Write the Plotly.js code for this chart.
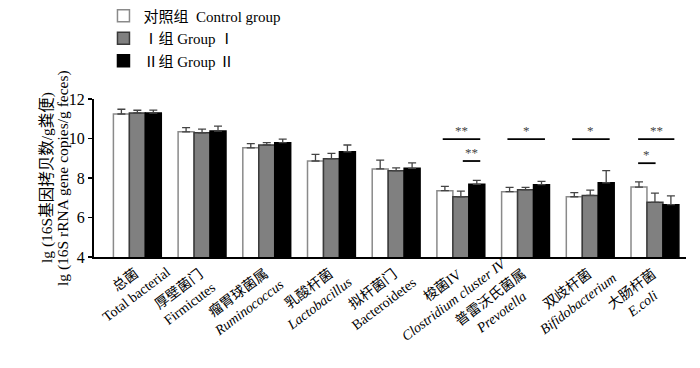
<!DOCTYPE html>
<html>
<head>
<meta charset="utf-8">
<script src="https://cdn.plot.ly/plotly-3.0.1.min.js"></script>
<style>html,body{margin:0;padding:0;background:#fff}#chart{width:700px;height:368px}</style>
</head>
<body>
<div id="chart"></div>
<script>
const categoriesCN = ["总菌","厚壁菌门","瘤胃球菌属","乳酸杆菌","拟杆菌门","梭菌IV","普雷沃氏菌属","双歧杆菌","大肠杆菌"];
const categoriesEN = ["Total bacterial","Firmicutes","<i>Ruminococcus</i>","<i>Lactobacillus</i>","Bacteroidetes","<i>Clostridium cluster IV</i>","<i>Prevotella</i>","<i>Bifidobacterium</i>","<i>E.coli</i>"];
const seriesNames = ["对照组  Control group","Ⅰ组 Group Ⅰ","Ⅱ组 Group Ⅱ"];
const yTitleCN = "lg (16S基因拷贝数/g粪便)";
const yTitleEN = "lg (16S rRNA gene copies/g feces)";
const control   = [11.24,10.34,9.53,8.86,8.46,7.36,7.31,7.05,7.54];
const controlSD = [0.24,0.21,0.21,0.34,0.45,0.22,0.22,0.21,0.26];
const group1    = [11.29,10.29,9.67,8.98,8.37,7.05,7.41,7.12,6.77];
const group1SD  = [0.14,0.18,0.12,0.27,0.14,0.29,0.12,0.27,0.46];
const group2    = [11.29,10.38,9.79,9.33,8.49,7.68,7.66,7.76,6.65];
const group2SD  = [0.15,0.25,0.18,0.34,0.28,0.20,0.17,0.61,0.44];
// significance brackets: category index, offsets, level, label
const sigCat   = [5,5,6,7,8,8];
const sigFrom  = [-0.28,0.03,-0.28,-0.28,-0.26,-0.26];
const sigTo    = [0.30,0.30,0.30,0.30,0.30,0.01];
const sigLevel = [9.97,8.86,9.97,9.97,9.97,8.75];
const sigText  = ["**","**","*","*","**","*"];

const FAM = "'Liberation Serif','Noto Sans CJK SC',serif";
const font = {family:FAM, color:"#000"};
const zeros = control.map(()=>0);

function bar(name, y, sd, fill, line){
  return {type:"bar", name:name, x:categoriesCN, y:y,
    marker:{color:fill, line:{color:line, width:1.5}},
    error_y:{type:"data", symmetric:false, array:sd, arrayminus:zeros, color:"#444", thickness:1.3, width:4}};
}
const traces = [
  bar(seriesNames[0], control, controlSD, "#ffffff", "#8a8a8a"),
  bar(seriesNames[1], group1, group1SD, "#808080", "#3a3a3a"),
  bar(seriesNames[2], group2, group2SD, "#000000", "#000000")
];

const shapes = [], annotations = [];
for (let i=0;i<sigCat.length;i++){
  shapes.push({type:"line", xref:"x", yref:"y", x0:sigCat[i]+sigFrom[i], x1:sigCat[i]+sigTo[i], y0:sigLevel[i], y1:sigLevel[i], line:{color:"#000", width:1.8}});
  annotations.push({xref:"x", yref:"y", x:sigCat[i]+(sigFrom[i]+sigTo[i])/2, y:sigLevel[i], text:sigText[i], showarrow:false, yanchor:"bottom", yshift:-1, font:{family:FAM, size:13, color:"#444"}});
}

// rotated two-line category labels (centre aligned, Chinese line ending at the category)
const LBL = 14, ANG = 37;
const cosA = Math.cos(ANG*Math.PI/180), sinA = Math.sin(ANG*Math.PI/180);
const ctx = document.createElement("canvas").getContext("2d");
ctx.font = LBL + "px " + FAM;
const lh = LBL*1.3;
categoriesCN.forEach((cn,i)=>{
  const Lc = ctx.measureText(cn).width;
  annotations.push({xref:"x", yref:"paper", x:i, y:0, text:cn+"<br>"+categoriesEN[i], showarrow:false,
    textangle:-ANG, align:"center", xanchor:"center", yanchor:"middle",
    xshift: -1 - Lc/2*cosA + lh/2*sinA,
    yshift: -(15 + Lc/2*sinA + lh/2*cosA),
    font:Object.assign({size:LBL},font)});
});
// y-axis title lines
[yTitleCN, yTitleEN].forEach((t,i)=>{
  annotations.push({xref:"paper", yref:"paper", x:0, y:0.5, text:t, showarrow:false, textangle:-90,
    xanchor:"center", yanchor:"middle", xshift: i===0 ? -47 : -31, font:Object.assign({size:15.5},font)});
});

const layout = {
  width:700, height:368,
  margin:{l:94, r:14, t:99, b:111, autoexpand:false},
  paper_bgcolor:"#fff", plot_bgcolor:"#fff",
  font:Object.assign({size:13}, font),
  barmode:"group", bargap:0.26, bargroupgap:0,
  showlegend:true,
  legend:{x:0.016, y:1.63, xanchor:"left", yanchor:"top", font:Object.assign({size:15},font), tracegroupgap:0, itemwidth:30, bgcolor:"rgba(0,0,0,0)"},
  xaxis:{type:"category", range:[-0.67,8.48], showline:true, linecolor:"#000", linewidth:2, ticks:"", showticklabels:false, showgrid:false, zeroline:false},
  yaxis:{range:[4,12], tickvals:[4,6,8,10,12], showline:true, linecolor:"#000", linewidth:2, ticks:"outside", ticklen:4, tickwidth:1.5, tickcolor:"#000", tickfont:Object.assign({size:16},font), showgrid:false, zeroline:false},
  shapes:shapes, annotations:annotations
};
Plotly.newPlot("chart", traces, layout, {displayModeBar:false, staticPlot:true});
</script>
</body>
</html>
